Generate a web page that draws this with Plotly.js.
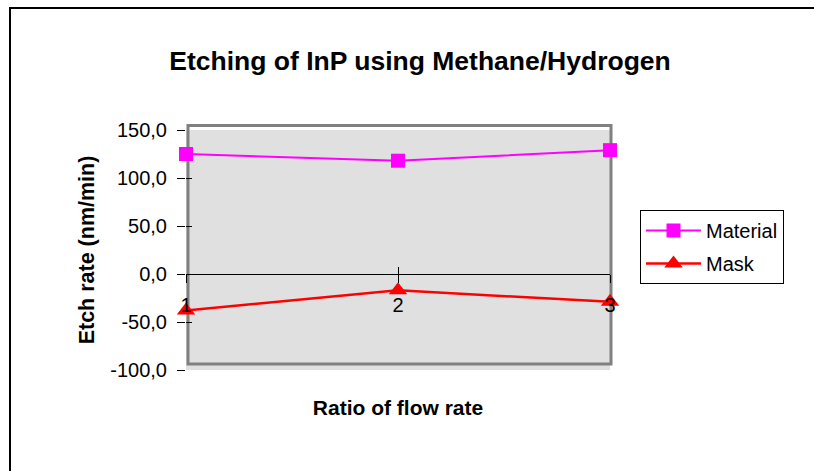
<!DOCTYPE html>
<html>
<head>
<meta charset="utf-8">
<script src="https://cdn.plot.ly/plotly-3.0.1.min.js"></script>
<style>html,body{margin:0;padding:0;background:#fff;}#chart{width:814px;height:471px;}</style>
</head>
<body>
<div id="chart"></div>
<script>
// Data
var categories = ['1', '2', '3'];
var materialValues = [125, 118, 129];
var maskValues = [-38, -17, -29];
var seriesNames = ['Material', 'Mask'];
var yTickVals = [-100, -50, 0, 50, 100, 150];
var yTickText = ['-100,0', '-50,0', '0,0', '50,0', '100,0', '150,0'];

var FONT = 'Arial, "Liberation Sans", sans-serif';

var traces = [
  {
    x: categories, y: materialValues, name: seriesNames[0],
    xaxis: 'x', yaxis: 'y',
    type: 'scatter', mode: 'lines+markers', cliponaxis: false,
    legendgroup: 'a',
    line: {color: '#FF00FF', width: 2},
    marker: {symbol: 'square', size: 14, color: '#FF00FF'}
  },
  {
    x: categories, y: maskValues, name: seriesNames[1],
    xaxis: 'x2', yaxis: 'y2',
    type: 'scatter', mode: 'lines+markers', cliponaxis: false,
    legendgroup: 'b',
    line: {color: '#FF0000', width: 2.5},
    marker: {symbol: 'triangle-up', size: 16, color: '#FF0000'}
  }
];

var zeroPos = (0 - (-100)) / (150 - (-100));

var layout = {
  width: 814, height: 471,
  margin: {l: 186, r: 204, t: 130, b: 101, pad: 0},
  paper_bgcolor: '#ffffff',
  plot_bgcolor: '#E0E0E0',
  separators: ',.',
  font: {family: FONT, size: 20, color: '#000'},
  showlegend: true,
  title: {
    text: 'Etching of InP using Methane/Hydrogen',
    font: {family: FONT, size: 26.5, color: '#000', weight: 'bold'},
    xref: 'container', x: 0.516, xanchor: 'center',
    yref: 'container', y: 1 - 61 / 471, yanchor: 'middle'
  },
  xaxis: {
    type: 'category', range: [0, 2], anchor: 'free', position: zeroPos,
    showline: true, linecolor: '#000', linewidth: 1,
    ticks: 'outside', ticklen: 8, tickcolor: '#000', tickwidth: 1,
    ticklabelstandoff: 5,
    tickfont: {family: FONT, size: 20, color: '#000'},
    showgrid: false, zeroline: false, automargin: false,
    title: {text: 'Ratio of flow rate', standoff: 85,
            font: {family: FONT, size: 21, color: '#000', weight: 'bold'}}
  },
  xaxis2: {
    type: 'category', range: [0, 2], overlaying: 'x', anchor: 'free', position: zeroPos,
    showline: false, showticklabels: false,
    ticks: 'inside', ticklen: 7, tickcolor: '#000', tickwidth: 1,
    showgrid: false, zeroline: false, automargin: false
  },
  yaxis: {
    range: [-100, 150], tickvals: yTickVals, ticktext: yTickText,
    showline: false, showgrid: false, zeroline: false,
    ticks: 'outside', ticklen: 8, tickcolor: '#000', tickwidth: 1,
    ticklabelstandoff: 6,
    tickfont: {family: FONT, size: 20, color: '#000'},
    automargin: false,
    title: {text: 'Etch rate (nm/min)', standoff: 9,
            font: {family: FONT, size: 21.5, color: '#000', weight: 'bold'}}
  },
  yaxis2: {
    range: [-100, 150], tickvals: yTickVals, overlaying: 'y', side: 'left',
    showticklabels: false, showline: false, showgrid: false, zeroline: false,
    ticks: 'inside', ticklen: 6, tickcolor: '#000', tickwidth: 1, automargin: false
  },
  legend: {
    x: (640 - 186) / 424, xanchor: 'left',
    y: (370 - 210) / 240, yanchor: 'top',
    bgcolor: '#ffffff', bordercolor: '#000', borderwidth: 1,
    font: {family: FONT, size: 20, color: '#000'},
    traceorder: 'grouped', tracegroupgap: 4, itemwidth: 55
  },
  shapes: [
    {type: 'rect', xref: 'paper', yref: 'paper', layer: 'below',
     x0: (188 - 186) / 424, x1: (611 - 186) / 424,
     y0: (370 - 364) / 240, y1: (370 - 125.5) / 240,
     line: {color: '#808080', width: 3}, fillcolor: 'rgba(0,0,0,0)'},
    {type: 'rect', xref: 'paper', yref: 'paper', layer: 'above',
     x0: (10 - 186) / 424, x1: (830 - 186) / 424,
     y0: (370 - 490) / 240, y1: (370 - 8) / 240,
     line: {color: '#000', width: 2}, fillcolor: 'rgba(0,0,0,0)'}
  ]
};

Plotly.newPlot('chart', traces, layout, {staticPlot: true, displayModeBar: false});
</script>
</body>
</html>
